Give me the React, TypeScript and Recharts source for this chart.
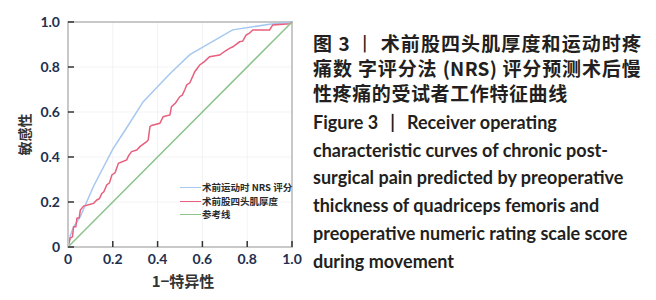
import {
  CartesianGrid,
  Legend,
  Line,
  LineChart,
  ReferenceArea,
  XAxis,
  YAxis,
} from "recharts";

const axisTicks = [0, 0.2, 0.4, 0.6, 0.8, 1];

// 术前运动时 NRS 评分
const nrsFpr = [0, 0.01, 0.025, 0.055, 0.114, 0.2, 0.262, 0.336, 0.455, 0.544, 0.735, 0.9, 1];
const nrsTpr = [0, 0.05, 0.09, 0.135, 0.27, 0.435, 0.53, 0.646, 0.77, 0.855, 0.965, 0.99, 1];

// 术前股四头肌厚度
const thickFpr = [
  0, 0.005, 0.01, 0.02, 0.025, 0.035, 0.04, 0.05, 0.055, 0.07, 0.1, 0.114, 0.129, 0.14, 0.151,
  0.16, 0.173, 0.185, 0.196, 0.21, 0.225, 0.262, 0.27, 0.284, 0.307, 0.321, 0.351, 0.358, 0.366,
  0.373, 0.41, 0.425, 0.455, 0.462, 0.48, 0.499, 0.51, 0.521, 0.53, 0.544, 0.566, 0.588, 0.61,
  0.632, 0.677, 0.7, 0.721, 0.736, 0.766, 0.78, 0.795, 0.81, 0.825, 0.9, 0.914, 0.99, 1,
];
const thickTpr = [
  0, 0.02, 0.04, 0.045, 0.09, 0.09, 0.128, 0.13, 0.164, 0.182, 0.19, 0.194, 0.209, 0.215, 0.238,
  0.245, 0.276, 0.285, 0.32, 0.33, 0.372, 0.387, 0.405, 0.424, 0.431, 0.446, 0.468, 0.476, 0.535,
  0.54, 0.55, 0.579, 0.587, 0.624, 0.64, 0.668, 0.675, 0.698, 0.72, 0.73, 0.779, 0.809, 0.825,
  0.846, 0.853, 0.87, 0.883, 0.89, 0.912, 0.915, 0.942, 0.95, 0.965, 0.965, 0.987, 0.992, 1,
];

// 参考线
const refFpr = [0, 1];
const refTpr = [0, 1];

const seriesNames = ["术前运动时 NRS 评分", "术前股四头肌厚度", "参考线"];
const seriesColors = ["#a6c8f0", "#e8607e", "#8cc48c"];

const captionZh = [
  "术前股四头肌厚度和运动时疼",
  "痛数 字评分法 (NRS) 评分预测术后慢",
  "性疼痛的受试者工作特征曲线",
];
const captionEn = [
  "characteristic curves of chronic post-",
  "surgical pain predicted by preoperative",
  "thickness of quadriceps femoris and",
  "preoperative numeric rating scale score",
  "during movement",
];

const toPoints = (fpr: number[], tpr: number[]) =>
  fpr.map((x, i) => ({ fpr: x, tpr: tpr[i] }));

const tickStyle = {
  fontFamily: "Lato, 'Noto Sans', sans-serif",
  fontWeight: 700,
  fontSize: 14,
  fill: "#22304f",
};

const fmt = (v: number) => (v === 0 ? "0" : v.toFixed(1));

function RocLegend({ payload }: any) {
  const names = (payload ?? []).map((p: any) => p.value);
  const items = seriesNames.filter((n) => names.includes(n));
  return (
    <div
      style={{
        fontFamily: "'Noto Sans CJK SC', sans-serif",
        fontSize: 9.5,
        fontWeight: 700,
        color: "#2a2a2a",
        lineHeight: "13.5px",
      }}
    >
      {items.map((name) => (
        <div key={name} style={{ display: "flex", alignItems: "center" }}>
          <span
            style={{
              display: "inline-block",
              width: 21,
              borderTop: `1.5px solid ${seriesColors[seriesNames.indexOf(name)]}`,
              marginRight: 1,
            }}
          />
          <span>{name}</span>
        </div>
      ))}
    </div>
  );
}

export default function App() {
  return (
    <div
      style={{
        position: "absolute",
        left: 0,
        top: 0,
        width: 656,
        height: 300,
        background: "#fff",
        overflow: "hidden",
      }}
    >
      <LineChart width={310} height={300} margin={{ top: 22, right: 18, left: 8, bottom: 23 }}>
        <CartesianGrid stroke="#f3f3f3" />
        <XAxis
          type="number"
          dataKey="fpr"
          domain={[0, 1]}
          ticks={axisTicks}
          tickFormatter={fmt}
          tick={tickStyle}
          tickSize={-6}
          tickMargin={13}
          height={30}
          axisLine={{ stroke: "#c8c8c8", strokeWidth: 2 }}
          tickLine={{ stroke: "#333", strokeWidth: 1.5 }}
          label={({ viewBox }: any) => (
            <text
              x={viewBox.x + viewBox.width / 2 + 3}
              y={viewBox.y + 36}
              textAnchor="middle"
              dominantBaseline="middle"
              style={{ fontFamily: "'Noto Sans CJK SC', sans-serif", fontWeight: 700, fontSize: 15, fill: "#333" }}
            >
              1−特异性
            </text>
          )}
        />
        <YAxis
          type="number"
          dataKey="tpr"
          domain={[0, 1]}
          ticks={axisTicks}
          tickFormatter={fmt}
          tick={tickStyle}
          tickSize={-6}
          tickMargin={14}
          width={60}
          axisLine={{ stroke: "#c8c8c8", strokeWidth: 2 }}
          tickLine={{ stroke: "#333", strokeWidth: 1.5 }}
          label={({ viewBox }: any) => (
            <text
              x={viewBox.x + 18}
              y={viewBox.y + viewBox.height / 2}
              textAnchor="middle"
              dominantBaseline="middle"
              transform={`rotate(-90 ${viewBox.x + 18} ${viewBox.y + viewBox.height / 2})`}
              style={{ fontFamily: "'Noto Sans CJK SC', sans-serif", fontWeight: 700, fontSize: 14, fill: "#333" }}
            >
              敏感性
            </text>
          )}
        />
        <ReferenceArea x1={0} x2={1} y1={0} y2={1} fill="none" stroke="#c8c8c8" strokeWidth={2} />
        <Legend
          layout="vertical"
          align="center"
          verticalAlign="middle"
          content={<RocLegend />}
          wrapperStyle={{ left: 180, top: 181, width: "auto" }}
        />
        <Line
          data={toPoints(nrsFpr, nrsTpr)}
          dataKey="tpr"
          name={seriesNames[0]}
          stroke={seriesColors[0]}
          strokeWidth={1.5}
          dot={false}
          isAnimationActive={false}
        />
        <Line
          data={toPoints(thickFpr, thickTpr)}
          dataKey="tpr"
          name={seriesNames[1]}
          stroke={seriesColors[1]}
          strokeWidth={1.5}
          dot={false}
          isAnimationActive={false}
        />
        <Line
          data={toPoints(refFpr, refTpr)}
          dataKey="tpr"
          name={seriesNames[2]}
          stroke={seriesColors[2]}
          strokeWidth={1.5}
          dot={false}
          isAnimationActive={false}
        />
      </LineChart>

      <div
        style={{
          position: "absolute",
          left: 313,
          top: 30,
          width: 328,
          fontFamily: "'Noto Sans CJK SC', sans-serif",
          fontWeight: 700,
          fontSize: 19,
          lineHeight: "25px",
          color: "#231f20",
        }}
      >
        <div style={{ textAlignLast: "justify", whiteSpace: "nowrap" }}>
          <span>图 3 </span>
          <span style={{ fontWeight: 400 }}>丨</span>
          <span> {captionZh[0]}</span>
        </div>
        <div style={{ textAlignLast: "justify", whiteSpace: "nowrap", letterSpacing: 0.3 }}>{captionZh[1]}</div>
        <div style={{ letterSpacing: 0.6, whiteSpace: "nowrap" }}>{captionZh[2]}</div>
      </div>

      <div
        style={{
          position: "absolute",
          left: 313,
          top: 109,
          fontFamily: "Lato, sans-serif",
          fontWeight: 700,
          fontSize: 18,
          lineHeight: "27.7px",
          color: "#231f20",
          whiteSpace: "nowrap",
        }}
      >
        <div>
          Figure 3<span style={{ display: "inline-block", width: 12 }} />|
          <span style={{ display: "inline-block", width: 12 }} />Receiver operating
        </div>
        {captionEn.map((line) => (
          <div key={line}>{line}</div>
        ))}
      </div>
    </div>
  );
}
